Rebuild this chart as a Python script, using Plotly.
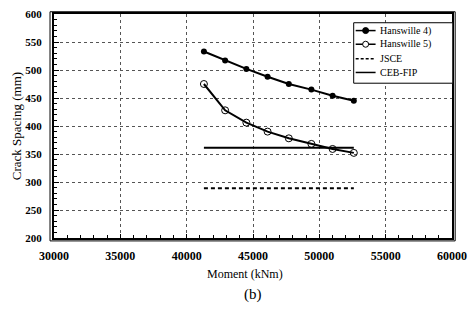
import plotly.graph_objects as go

# Data
h4_x = [41300, 42900, 44500, 46100, 47700, 49400, 51000, 52600]
h4_y = [533, 517, 502, 488, 475, 465, 454, 445]
h5_x = [41300, 42900, 44500, 46100, 47700, 49400, 51000, 52600]
h5_y = [475, 428, 406, 390, 378, 368, 359, 352]
jsce_x = [41300, 52600]
jsce_y = [289, 289]
ceb_x = [41300, 52600]
ceb_y = [361, 361]

series_names = ["Hanswille 4)", "Hanswille 5)", "JSCE", "CEB-FIP"]
x_ticks = [30000, 35000, 40000, 45000, 50000, 55000, 60000]
y_ticks = [200, 250, 300, 350, 400, 450, 500, 550, 600]

serif = "Liberation Serif"

fig = go.Figure()
fig.add_trace(go.Scatter(x=h4_x, y=h4_y, mode="lines+markers", name=series_names[0],
                         line=dict(color="black", width=2),
                         marker=dict(symbol="circle", size=6, color="black")))
fig.add_trace(go.Scatter(x=h5_x, y=h5_y, mode="lines+markers", name=series_names[1],
                         line=dict(color="black", width=2),
                         marker=dict(symbol="circle-open", size=7, color="black", line=dict(width=1))))
fig.add_trace(go.Scatter(x=jsce_x, y=jsce_y, mode="lines", name=series_names[2],
                         line=dict(color="black", width=2, dash="4px,3px")))
fig.add_trace(go.Scatter(x=ceb_x, y=ceb_y, mode="lines", name=series_names[3],
                         line=dict(color="black", width=2)))

fig.update_layout(
    width=475, height=320,
    margin=dict(l=54, r=20, t=8, b=82),
    paper_bgcolor="white", plot_bgcolor="white",
    font=dict(family=serif, color="black"),
    showlegend=False,
)

fig.update_xaxes(range=[30000, 60000], tickvals=x_ticks,
                 ticktext=[str(v) for v in x_ticks],
                 tickfont=dict(family=serif, size=12, weight="bold"),
                 ticks="inside", ticklen=4, tickcolor="black",
                 ticklabelstandoff=6,
                 showgrid=True, gridcolor="#555", griddash="dot", gridwidth=1,
                 showline=True, linecolor="black", linewidth=2, mirror=True,
                 zeroline=False,
                 minor=dict(dtick=1000, ticks="inside", ticklen=3, tickcolor="black", showgrid=False))
fig.update_yaxes(range=[200, 600], tickvals=y_ticks,
                 ticktext=[str(v) for v in y_ticks],
                 tickfont=dict(family=serif, size=11, weight="bold"),
                 ticks="inside", ticklen=5, tickcolor="black",
                 ticklabelstandoff=8,
                 showgrid=True, gridcolor="#555", griddash="dot", gridwidth=1,
                 showline=True, linecolor="black", linewidth=2, mirror=True,
                 zeroline=False,
                 minor=dict(dtick=10, ticks="inside", ticklen=3, tickcolor="black", showgrid=False))

# outer thin frame (double border look)
fig.add_shape(type="rect", xref="paper", yref="paper",
              x0=-0.01, x1=1.008, y0=-0.013, y1=1.01,
              line=dict(color="black", width=1), fillcolor="rgba(0,0,0,0)")

# compact legend drawn as decorations (paper coordinates)
fig.add_shape(type="rect", xref="paper", yref="paper",
              x0=0.753, x1=1.002, y0=0.691, y1=0.961,
              line=dict(color="black", width=1), fillcolor="white")
leg_y = [0.926, 0.865, 0.800, 0.739]
sx0, sx1, smid, tx = 0.758, 0.808, 0.783, 0.813
for i, name in enumerate(series_names):
    yy = leg_y[i]
    dash = "3px,2px" if i == 2 else "solid"
    fig.add_shape(type="line", xref="paper", yref="paper",
                  x0=sx0, x1=sx1, y0=yy, y1=yy,
                  line=dict(color="black", width=1.5, dash=dash))
    if i < 2:
        fig.add_shape(type="circle", xref="paper", yref="paper",
                      xsizemode="pixel", ysizemode="pixel",
                      xanchor=smid, yanchor=yy, x0=-3, x1=3, y0=-3, y1=3,
                      line=dict(color="black", width=1),
                      fillcolor="black" if i == 0 else "white")
    fig.add_annotation(text=name, xref="paper", yref="paper",
                       x=tx, y=yy, xanchor="left", yanchor="middle",
                       showarrow=False,
                       font=dict(family=serif, size=10, color="black"))

fig.add_annotation(text="Crack Spacing (mm)", xref="paper", yref="paper",
                   x=-0.095, y=0.5, xanchor="center", yanchor="middle",
                   textangle=-90, showarrow=False,
                   font=dict(family=serif, size=13, color="black"))
fig.add_annotation(text="Moment (kNm)", xref="paper", yref="paper",
                   x=0.48, y=-0.16, xanchor="center", yanchor="middle",
                   showarrow=False, font=dict(family=serif, size=12, color="black"))
fig.add_annotation(text="(b)", xref="paper", yref="paper",
                   x=0.5, y=-0.25, xanchor="center", yanchor="middle",
                   showarrow=False, font=dict(family=serif, size=15, color="black"))

fig.write_html("out.html")
